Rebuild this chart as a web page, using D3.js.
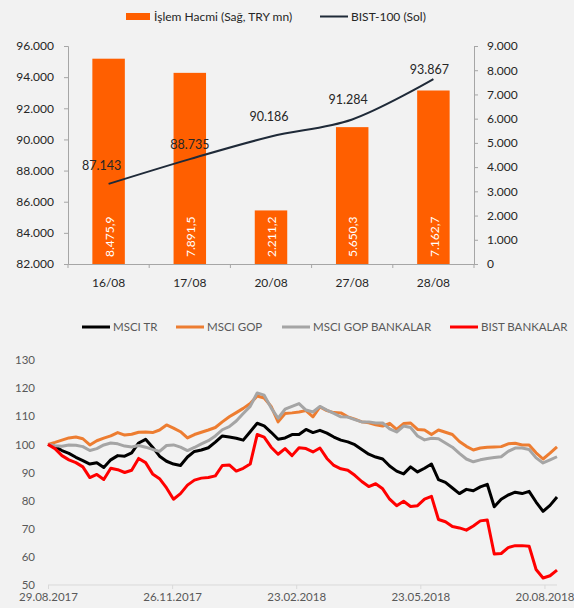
<!DOCTYPE html>
<html>
<head>
<meta charset="utf-8">
<script src="https://cdn.jsdelivr.net/npm/d3@7"></script>
<style>
  body { margin: 0; background: #f2f2f2; }
  svg { display: block; font-family: Lato, "Open Sans", sans-serif; }
</style>
</head>
<body>
<svg id="chart" width="574" height="608"></svg>
<script>
// top panel
const days = ["16/08", "17/08", "20/08", "27/08", "28/08"]
const volume = [8475.9, 7891.5, 2211.2, 5650.3, 7162.7]
const bist100 = [87143, 88735, 90186, 91284, 93867]
const leftTicks = [82000, 84000, 86000, 88000, 90000, 92000, 94000, 96000]
const rightTicks = [0, 1000, 2000, 3000, 4000, 5000, 6000, 7000, 8000, 9000]

// bottom panel
const dates = [
  "2017-08-29", "2017-09-03", "2017-09-08", "2017-09-13", "2017-09-18", "2017-09-23", "2017-09-28",
  "2017-10-03", "2017-10-08", "2017-10-13", "2017-10-18", "2017-10-23", "2017-10-28", "2017-11-02",
  "2017-11-07", "2017-11-12", "2017-11-17", "2017-11-22", "2017-11-27", "2017-12-02", "2017-12-07",
  "2017-12-12", "2017-12-17", "2017-12-22", "2017-12-27", "2018-01-01", "2018-01-06", "2018-01-11",
  "2018-01-16", "2018-01-21", "2018-01-26", "2018-01-31", "2018-02-05", "2018-02-10", "2018-02-15",
  "2018-02-20", "2018-02-25", "2018-03-02", "2018-03-07", "2018-03-12", "2018-03-17", "2018-03-22",
  "2018-03-27", "2018-04-01", "2018-04-06", "2018-04-11", "2018-04-16", "2018-04-21", "2018-04-26",
  "2018-05-01", "2018-05-06", "2018-05-11", "2018-05-16", "2018-05-21", "2018-05-26", "2018-05-31",
  "2018-06-05", "2018-06-10", "2018-06-15", "2018-06-20", "2018-06-25", "2018-06-30", "2018-07-05",
  "2018-07-10", "2018-07-15", "2018-07-20", "2018-07-25", "2018-07-30", "2018-08-04", "2018-08-09",
  "2018-08-14", "2018-08-19", "2018-08-24", "2018-08-29"
]
const msciTr = [
  100, 99.2, 97.8, 96.8, 95.4, 94.2, 93, 93.5, 91.8, 94.5, 96, 95.8, 97, 100.5,
  101.8, 99, 95.8, 94, 93, 92.5, 95.5, 97.5, 98, 98.8, 100.8, 103, 102.6, 102.2,
  101.5, 104.5, 107.5, 106.6, 104.3, 101.8, 102.3, 103.5, 103.5, 105.3, 104.2, 105, 104, 102.6,
  101.5, 100.9, 99.9, 98.2, 96.5, 95.5, 94.8, 92.3, 90.5, 89.5, 92, 90.2, 91.5, 93,
  87.5, 86.5, 84.5, 82.5, 84, 83.5, 84.9, 85.8, 77.8, 80.5, 82, 83, 82.5, 83.3,
  79.5, 76.2, 78.3, 81.3
]
const msciGop = [
  100, 100.7, 101.5, 102.3, 102.6, 102, 99.8, 101.3, 102.2, 103, 104.2, 103.3, 103.6, 104.3,
  104.4, 104.2, 105.1, 106.9, 105.8, 104.5, 102.3, 103.5, 104.3, 105.1, 106, 108, 109.8, 111.3,
  112.8, 114.5, 117.2, 116.5, 113.5, 108, 111, 111.2, 111.5, 112, 109.8, 113.3, 112, 111.3,
  111.2, 109.8, 109, 108, 107.7, 107, 106.5, 107.5, 105.3, 107.4, 107.6, 105.3, 105.1, 103.5,
  105.1, 104.3, 103.5, 101, 99.3, 98, 98.7, 99, 99.1, 99.2, 100.2, 100.4, 99.8, 99.8,
  97, 94.8, 96.9, 99.1
]
const msciGopBanks = [
  100, 99.5, 99.3, 99.8, 99.7, 99.2, 97.8, 98.5, 99.8, 100.5, 100.2, 99.4, 99.1, 99.6,
  99, 98.2, 97.5, 99.6, 99.8, 99, 97.8, 98.9, 100.2, 101.3, 103, 105.2, 106.3, 108.3,
  111, 113.5, 118.3, 117.5, 113, 109.3, 112.5, 113.5, 114.5, 112.2, 111.5, 113.5, 112.2, 111,
  109.8, 109.7, 108.8, 108, 108, 107.6, 107.6, 105.5, 104.4, 106.5, 106, 103, 101.6, 102.2,
  102, 100.5, 99, 96.8, 94.8, 93.8, 94.5, 95, 95.3, 95.6, 97.5, 98.7, 98.7, 98.2,
  95.2, 93.4, 94.5, 95.6
]
const bistBanks = [
  100, 98.5, 96, 94.5, 93.5, 92, 88.2, 89.3, 87.5, 91.5, 91, 90, 90.8, 95,
  93.5, 89.5, 87.8, 84.5, 80.5, 82.5, 85.5, 87.3, 88, 88.2, 88.8, 92.5, 92.7, 90.5,
  91.5, 93, 103.5, 102.6, 99, 96.5, 98.5, 96, 98.8, 98.5, 97.3, 98.7, 95, 92.5,
  91.3, 90.8, 89, 86.8, 85, 86, 84.2, 80.5, 78.2, 79.8, 77.9, 78.2, 80.5, 81.5,
  73.3, 72.5, 70.8, 70.3, 69.5, 71, 72.8, 73.1, 61, 61.2, 63.3, 64, 64, 63.8,
  55.5, 52.5, 53.3, 55.3
]
const seriesNames = ["MSCI TR", "MSCI GOP", "MSCI GOP BANKALAR", "BIST BANKALAR"]
const seriesColors = ["#000000", "#ed7d31", "#a5a5a5", "#ff0000"]
const dateTicks = ["2017-08-29", "2017-11-26", "2018-02-23", "2018-05-23", "2018-08-20"]
const valueTicks = [50, 60, 70, 80, 90, 100, 110, 120, 130]

const tr = d3.formatLocale({ decimal: ",", thousands: ".", grouping: [3], currency: ["", ""] })
const parse = d3.timeParse("%Y-%m-%d")

const svg = d3.select("#chart")
svg.append("rect").attr("width", 574).attr("height", 608).attr("fill", "#f2f2f2")

// ---------- top: volume bars + BIST-100 line ----------
const upper = svg.append("g")
const x = d3.scaleBand().domain(days).range([68, 474]).paddingInner(0.6).paddingOuter(0.3)
const yLeft = d3.scaleLinear().domain([82000, 96000]).range([264, 46])
const yRight = d3.scaleLinear().domain([0, 9000]).range([264, 46])
const cx = d => x(d) + x.bandwidth() / 2

const styleAxis = g => {
  g.select(".domain").attr("stroke", "#a6a6a6")
  g.selectAll(".tick line").attr("stroke", "#a6a6a6")
  g.selectAll("text").attr("fill", "#262626").attr("font-size", 12).attr("font-family", "Lato, sans-serif")
}

upper.append("g")
  .attr("transform", "translate(68,0)")
  .call(d3.axisLeft(yLeft).tickValues(leftTicks).tickSize(4).tickPadding(10).tickFormat(tr.format(",")))
  .call(styleAxis)

upper.append("g")
  .attr("transform", "translate(474,0)")
  .call(d3.axisRight(yRight).tickValues(rightTicks).tickSize(4).tickPadding(9).tickFormat(tr.format(",")))
  .call(styleAxis)

upper.append("g")
  .attr("transform", "translate(0,264)")
  .call(d3.axisBottom(x).tickSize(0).tickPadding(14))
  .call(styleAxis)

// category separators on the x axis
const edges = days.map(d => cx(d) - x.step() / 2).concat([cx(days[days.length - 1]) + x.step() / 2])
upper.append("g")
  .selectAll("line")
  .data(edges)
  .join("line")
  .attr("x1", d => d).attr("x2", d => d)
  .attr("y1", 264).attr("y2", 268)
  .attr("stroke", "#a6a6a6")

upper.append("g")
  .selectAll("rect")
  .data(days)
  .join("rect")
  .attr("x", d => x(d))
  .attr("width", x.bandwidth())
  .attr("y", (d, i) => yRight(volume[i]))
  .attr("height", (d, i) => yRight(0) - yRight(volume[i]))
  .attr("fill", "#ff5f00")

upper.append("g")
  .selectAll("text")
  .data(days)
  .join("text")
  .attr("transform", d => `translate(${cx(d) + 1},${yRight(0) - 7}) rotate(-90)`)
  .attr("dy", "0.35em")
  .attr("font-size", 12)
  .attr("fill", "#ffffff")
  .text((d, i) => tr.format(",.1f")(volume[i]))

const line = d3.line()
  .x((v, i) => cx(days[i]))
  .y(v => yLeft(v))
  .curve(d3.curveCatmullRom)

upper.append("path")
  .datum(bist100)
  .attr("d", line)
  .attr("fill", "none")
  .attr("stroke", "#1f2a38")
  .attr("stroke-width", 2)

// label offsets follow the reference's placement
const labelDx = [-7, 0, -2, -4, -4]
const labelDy = [-14, -10, -16, -15, -5]
upper.append("g")
  .selectAll("text")
  .data(bist100)
  .join("text")
  .attr("x", (v, i) => cx(days[i]) + labelDx[i])
  .attr("y", (v, i) => yLeft(v) + labelDy[i])
  .attr("text-anchor", "middle")
  .attr("font-size", 12.5)
  .attr("fill", "#262626")
  .text(v => tr.format(",")(v))

// top legend
upper.append("rect").attr("x", 126).attr("y", 13).attr("width", 24).attr("height", 7).attr("fill", "#ff5f00")
upper.append("text").attr("x", 154).attr("y", 21).attr("font-size", 12).attr("fill", "#262626")
  .text("İşlem Hacmi (Sağ, TRY mn)")
upper.append("line").attr("x1", 320).attr("x2", 348).attr("y1", 16.5).attr("y2", 16.5)
  .attr("stroke", "#1f2a38").attr("stroke-width", 2)
upper.append("text").attr("x", 351).attr("y", 21).attr("font-size", 12).attr("fill", "#262626")
  .text("BIST-100 (Sol)")

// ---------- bottom: relative performance lines ----------
const lower = svg.append("g")
const xt = d3.scaleTime().domain([parse("2017-08-29"), parse("2018-08-29")]).range([48, 557])
const yt = d3.scaleLinear().domain([50, 130]).range([585, 360])

lower.append("g")
  .attr("transform", "translate(48,0)")
  .call(d3.axisLeft(yt).tickValues(valueTicks).tickSize(0).tickPadding(13))
  .call(g => g.select(".domain").remove())
  .call(g => g.selectAll("text").attr("fill", "#595959").attr("font-size", 11.5).attr("font-family", "Lato, sans-serif"))

lower.append("g")
  .attr("transform", "translate(0,585)")
  .call(d3.axisBottom(xt).tickValues(dateTicks.map(parse)).tickSize(4).tickPadding(4)
    .tickFormat(d3.timeFormat("%d.%m.%Y")))
  .call(g => g.select(".domain").attr("stroke", "#d9d9d9").attr("d", "M48,0H557"))
  .call(g => g.selectAll(".tick line").attr("stroke", "#d9d9d9"))
  .call(g => g.selectAll("text").attr("fill", "#595959").attr("font-size", 11.5).attr("font-family", "Lato, sans-serif"))

const series = [msciTr, msciGop, msciGopBanks, bistBanks]
const perf = d3.line()
  .x((v, i) => xt(parse(dates[i])))
  .y(v => yt(v))

lower.append("g")
  .selectAll("path")
  .data(series)
  .join("path")
  .attr("d", perf)
  .attr("fill", "none")
  .attr("stroke", (s, i) => seriesColors[i])
  .attr("stroke-width", 3)
  .attr("stroke-linejoin", "round")

// bottom legend
const legendX = [82, 176, 282, 450]
const legend = lower.append("g")
  .selectAll("g")
  .data(seriesNames)
  .join("g")
  .attr("transform", (d, i) => `translate(${legendX[i]},327)`)
legend.append("line")
  .attr("x2", 28)
  .attr("stroke", (d, i) => seriesColors[i])
  .attr("stroke-width", 3)
legend.append("text")
  .attr("x", 31)
  .attr("y", 4)
  .attr("font-size", 11.5)
  .attr("fill", "#595959")
  .text(d => d)
</script>
</body>
</html>
